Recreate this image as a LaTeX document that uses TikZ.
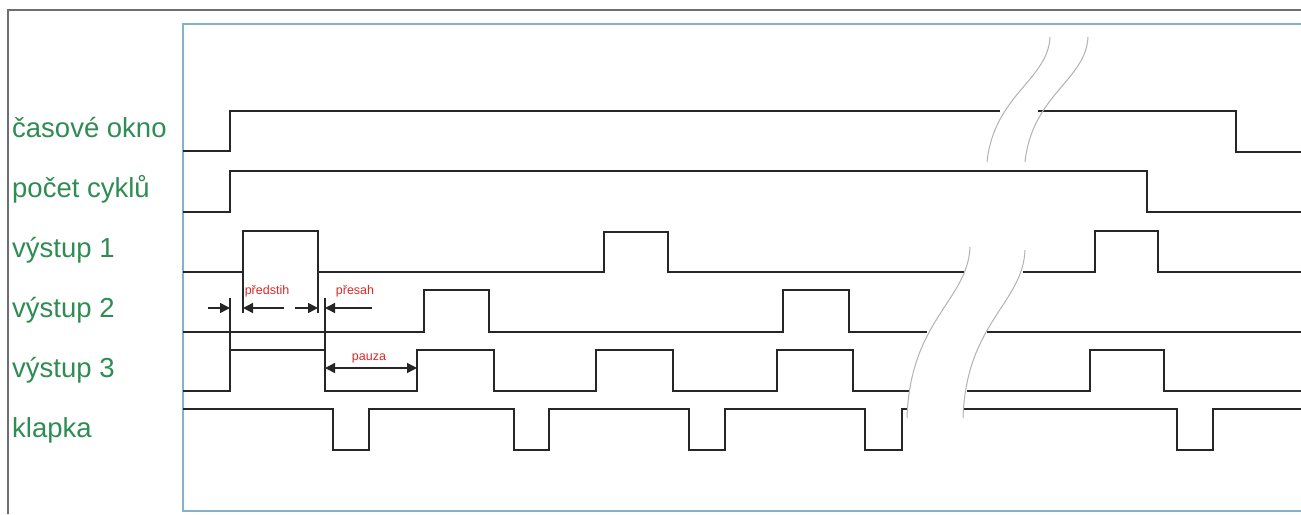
\documentclass[tikz,border=0pt]{standalone}
\usepackage{fontspec}
\setmainfont{Liberation Sans}
\usetikzlibrary{arrows.meta}
\definecolor{lblgreen}{RGB}{46,140,84}
\definecolor{dimred}{RGB}{222,40,40}
\definecolor{framegray}{RGB}{110,110,110}
\definecolor{frameblue}{RGB}{130,180,200}
\tikzset{
  sig/.style={line width=2.5pt, black!85, line join=miter},
  lbl/.style={anchor=base west, inner sep=0pt, text=lblgreen, font=\fontsize{27.5}{30}\selectfont},
  dimlbl/.style={anchor=base, inner sep=0pt, text=dimred, font=\fontsize{12.5}{14}\selectfont},
  guide/.style={line width=1.4pt, black!85},
  dimarrow/.style={line width=1.5pt, black!85, -{Triangle[length=10pt,width=10pt]}},
  dimboth/.style={line width=1.5pt, black!85, {Triangle[length=10pt,width=10pt]}-{Triangle[length=10pt,width=10pt]}},
  brk/.style={line width=1pt, gray!60}
}
\begin{document}
\begin{tikzpicture}[x=1pt,y=-1pt]
\useasboundingbox (0,0) rectangle (1301,514);
\fill[white] (0,0) rectangle (1301,514);
% frames
\draw[line width=2pt, framegray] (8,514) -- (8,10) -- (1301,10);
\draw[line width=2pt, frameblue] (1301,24) -- (183,24) -- (183,511) -- (1301,511);
% labels
\node[lbl] (l1) at (12,137) {časové okno};
\node[lbl] (l2) at (12,197) {počet cyklů};
\node[lbl] (l3) at (12,257) {výstup 1};
\node[lbl] (l4) at (12,317) {výstup 2};
\node[lbl] (l5) at (12,377) {výstup 3};
\node[lbl] (l6) at (12,437) {klapka};
% signal 1: casove okno
\draw[sig] (183,151) -- (230,151) -- (230,111) -- (1000,111);
\draw[sig] (1038,111) -- (1236,111) -- (1236,152) -- (1301,152);
% signal 2: pocet cyklu
\draw[sig] (183,212) -- (230,212) -- (230,171) -- (1147,171) -- (1147,212) -- (1301,212);
% signal 3: vystup 1
\draw[sig] (183,272) -- (243,272) -- (243,231) -- (318,231) -- (318,272) -- (604,272) -- (604,232) -- (668,232) -- (668,272) -- (964,272);
\draw[sig] (1023,272) -- (1095,272) -- (1095,231) -- (1158,231) -- (1158,272) -- (1301,272);
% signal 4: vystup 2
\draw[sig] (183,332) -- (424,332) -- (424,290) -- (489,290) -- (489,332) -- (783,332) -- (783,290) -- (849,290) -- (849,332) -- (927,332);
\draw[sig] (987,332) -- (1301,332);
% signal 5: vystup 3
\draw[sig] (183,391) -- (230,391) -- (230,350) -- (325,350) -- (325,391) -- (417,391) -- (417,350) -- (494,350) -- (494,391) -- (596,391) -- (596,350) -- (673,350) -- (673,391) -- (777,391) -- (777,350) -- (853,350) -- (853,391) -- (909,391);
\draw[sig] (967,391) -- (1090,391) -- (1090,350) -- (1164,350) -- (1164,391) -- (1301,391);
% signal 6: klapka
\draw[sig] (183,409) -- (333,409) -- (333,450) -- (369,450) -- (369,409) -- (514,409) -- (514,450) -- (549,450) -- (549,409) -- (689,409) -- (689,450) -- (725,450) -- (725,409) -- (865,409) -- (865,450) -- (902,450) -- (902,409) -- (907,409);
\draw[sig] (963,409) -- (1177,409) -- (1177,450) -- (1213,450) -- (1213,409) -- (1301,409);
% break marks
\draw[brk] (1050,37) .. controls (1048,80) and (994,95) .. (987,162);
\draw[brk] (1088,37) .. controls (1086,80) and (1032,95) .. (1025,162);
\draw[brk] (970,247) .. controls (968,300) and (910,320) .. (907,418);
\draw[brk] (1025,250) .. controls (1023,303) and (966,323) .. (963,418);
% guide lines
\coordinate (g1t) at (230,298); \coordinate (g1b) at (230,350);
\coordinate (g2t) at (325,298); \coordinate (g2b) at (325,350);
\coordinate (g3t) at (243,272); \coordinate (g3b) at (243,313);
\coordinate (g4t) at (318,272); \coordinate (g4b) at (318,313);
\draw[guide] (g1t) -- (g1b);
\draw[guide] (g2t) -- (g2b);
\draw[guide] (g3t) -- (g3b);
\draw[guide] (g4t) -- (g4b);
% dimension arrows
\coordinate (a1s) at (208,308); \coordinate (a1e) at (230,308);
\coordinate (a2s) at (284,308); \coordinate (a2e) at (243,308);
\coordinate (a3s) at (295,308); \coordinate (a3e) at (318,308);
\coordinate (a4s) at (372,308); \coordinate (a4e) at (325,308);
\draw[dimarrow] (a1s) -- (a1e);
\draw[dimarrow] (a2s) -- (a2e);
\draw[dimarrow] (a3s) -- (a3e);
\draw[dimarrow] (a4s) -- (a4e);
\coordinate (p1) at (325,368); \coordinate (p2) at (417,368);
\draw[dimboth] (p1) -- (p2);
\node[dimlbl] (d1) at (267,294) {předstih};
\node[dimlbl] (d2) at (355,294) {přesah};
\node[dimlbl] (d3) at (369,360) {pauza};
\end{tikzpicture}
\end{document}
